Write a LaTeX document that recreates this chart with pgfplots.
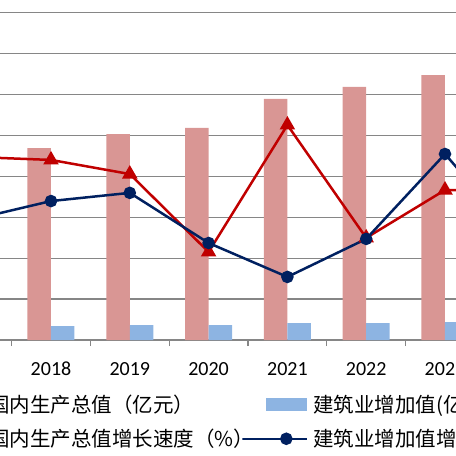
\documentclass[border=0pt]{standalone}
\usepackage{fontspec}
\setmainfont{Carlito}
\newfontfamily\cjk{Noto Sans CJK SC}
\usepackage{pgfplots}
\usepackage{pgfplotstable}
\pgfplotsset{compat=1.18}
\definecolor{gdpbar}{RGB}{217,150,148}
\definecolor{conbar}{RGB}{141,180,226}
\definecolor{gdpline}{RGB}{192,0,0}
\definecolor{conline}{RGB}{0,32,96}
\definecolor{gridgray}{RGB}{134,134,134}
\pgfplotstableread{
x gdp con
1 938800 68460
2 1007300 73350
3 1036700 73350
4 1178500 83130
5 1237200 83130
6 1295800 88020
}\bars
\pgfplotstableread{
x gdpr conr
0 6.85 3.78
1 6.70 4.69
2 6.01 5.09
3 2.20 2.64
4 8.41 0.98
5 2.89 2.84
6 5.23 6.99
7 5.18 2.54
}\rates
\pgfplotsset{
  barlegend/.style={legend image code/.code={\fill[##1,draw=none] (0pt,-6.5pt) rectangle (41pt,6.5pt);}},
  linelegend/.style={legend image code/.code={\draw[##1,mark repeat=2,mark phase=2] plot coordinates {(0pt,0pt) (20.5pt,0pt) (41pt,0pt)};}},
}
\begin{document}
\begin{tikzpicture}
\path[use as bounding box] (0,0) rectangle (456pt,456pt);
\clip (0,0) rectangle (456pt,456pt);
\begin{axis}[
  at={(0pt,116pt)}, anchor=south west,
  scale only axis, width=456pt, height=340pt,
  xmin=0.3528, xmax=6.1396, ymin=0, ymax=1662592,
  ybar=0pt, bar width=23.5pt,
  axis x line*=bottom,
  separate axis lines,
  x axis line style={draw=gridgray, line width=1.3pt, -},
  y axis line style={draw=none},
  xtick={1,2,3,4,5,6},
  xticklabels={2018,2019,2020,2021,2022,2023},
  minor xtick={0.5,1.5,2.5,3.5,4.5,5.5,6.5},
  major tick length=0pt, minor tick length=6pt,
  tick align=outside,
  xtick style={draw=gridgray, line width=1.3pt},
  xticklabel style={font=\fontsize{20}{24}\selectfont, anchor=north, inner sep=0pt, yshift=-22pt},
  ytick={200000,400000,600000,800000,1000000,1200000,1400000,1600000},
  yticklabels={},
  ytick style={draw=none},
  ymajorgrids,
  major grid style={draw=gridgray, line width=1.3pt},
  legend columns=2,
  legend cell align=left,
  legend style={at={(0,0)}, anchor=north west, xshift=-83pt, yshift=-55pt,
    draw=none, fill=none, inner sep=0pt,
    font=\cjk\fontsize{20.5}{24}\selectfont,
    nodes={inner sep=0pt}, row sep=15pt,
    /tikz/every odd column/.append style={column sep=5pt},
    /tikz/every even column/.append style={column sep=-13pt}},
]
\addplot[fill=gdpbar, draw=none, barlegend] table[x=x, y=gdp] {\bars};
\addlegendentry{国内生产总值（亿元）}
\addplot[fill=conbar, draw=none, barlegend] table[x=x, y=con] {\bars};
\addlegendentry{建筑业增加值(亿元)}
\addlegendimage{gdpline, line width=2.5pt, mark=triangle*, mark size=6.5pt, mark options={solid}, linelegend}
\addlegendentry{国内生产总值增长速度（\%）}
\addlegendimage{conline, line width=2.5pt, mark=*, mark size=5pt, mark options={solid}, linelegend}
\addlegendentry{建筑业增加值增长速度（\%）}
\end{axis}
\begin{axis}[
  at={(0pt,116pt)}, anchor=south west,
  scale only axis, width=456pt, height=340pt,
  xmin=0.3528, xmax=6.1396, ymin=-2.103, ymax=14.52,
  hide axis,
]
\addplot[gdpline, line width=2.5pt, mark=triangle*, mark size=6.5pt] table[x=x, y=gdpr] {\rates};
\addplot[conline, line width=2.5pt, mark=*, mark size=5pt] table[x=x, y=conr] {\rates};
\end{axis}
\end{tikzpicture}
\end{document}
